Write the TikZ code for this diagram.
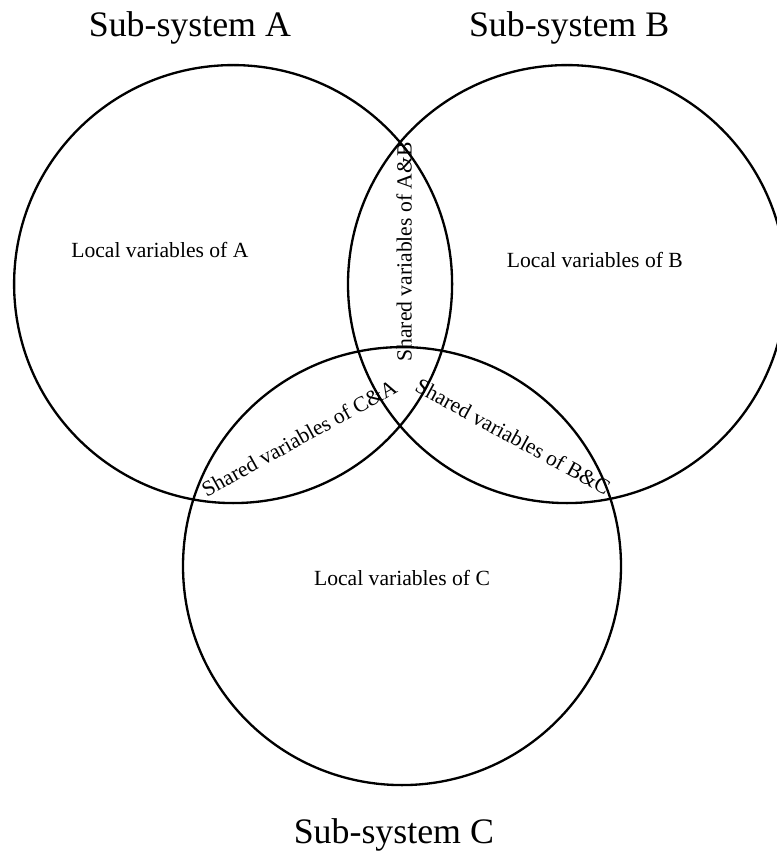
\documentclass[tikz,border=0pt]{standalone}
\usepackage{fontspec}
\setmainfont{Liberation Serif}
\tikzset{
    setcircle/.style={ line width=2.2pt },
    titletext/.style={ font=\fontsize{34}{40}\selectfont },
    localtext/.style={ font=\fontsize{20.5}{24}\selectfont },
    sharedtext/.style={ font=\fontsize{20.5}{24}\selectfont, inner sep=0pt }
}

\begin{document}
\begin{tikzpicture}

	\useasboundingbox (0, 0) rectangle (25.9, 28.7);

		\def\radius{7.3}

		\coordinate (cA) at (7.77, 19.23);
		\coordinate (cB) at (18.9, 19.23);
		\coordinate (cC) at (13.4, 9.83);

		\draw[ setcircle ] (cA) circle [ radius=\radius ];
		\draw[ setcircle ] (cB) circle [ radius=\radius ];
		\draw[ setcircle ] (cC) circle [ radius=\radius ];

		\node[ titletext ] (titleA) at (6.33, 27.77) {Sub-system A};
		\node[ titletext ] (titleB) at (18.97, 27.77) {Sub-system B};
		\node[ titletext ] (titleC) at (13.13, 0.87) {Sub-system C};

		\node[ localtext ] (localA) at (5.33, 20.37) {Local variables of A};
		\node[ localtext ] (localB) at (19.83, 20.03) {Local variables of B};
		\node[ localtext ] (localC) at (13.4, 9.43) {Local variables of C};

		% labels of the lens-shaped overlaps
		\node[ sharedtext, rotate=90 ] (sharedAB) at (13.47, 20.3) {Shared variables of A\&B};
		\node[ sharedtext, rotate=29 ] (sharedCA) at (9.97, 14.1) {Shared variables of C\&A};
		\node[ sharedtext, rotate=-28.6 ] (sharedBC) at (17.1, 14.15) {Shared variables of B\&C};

\end{tikzpicture}
\end{document}
